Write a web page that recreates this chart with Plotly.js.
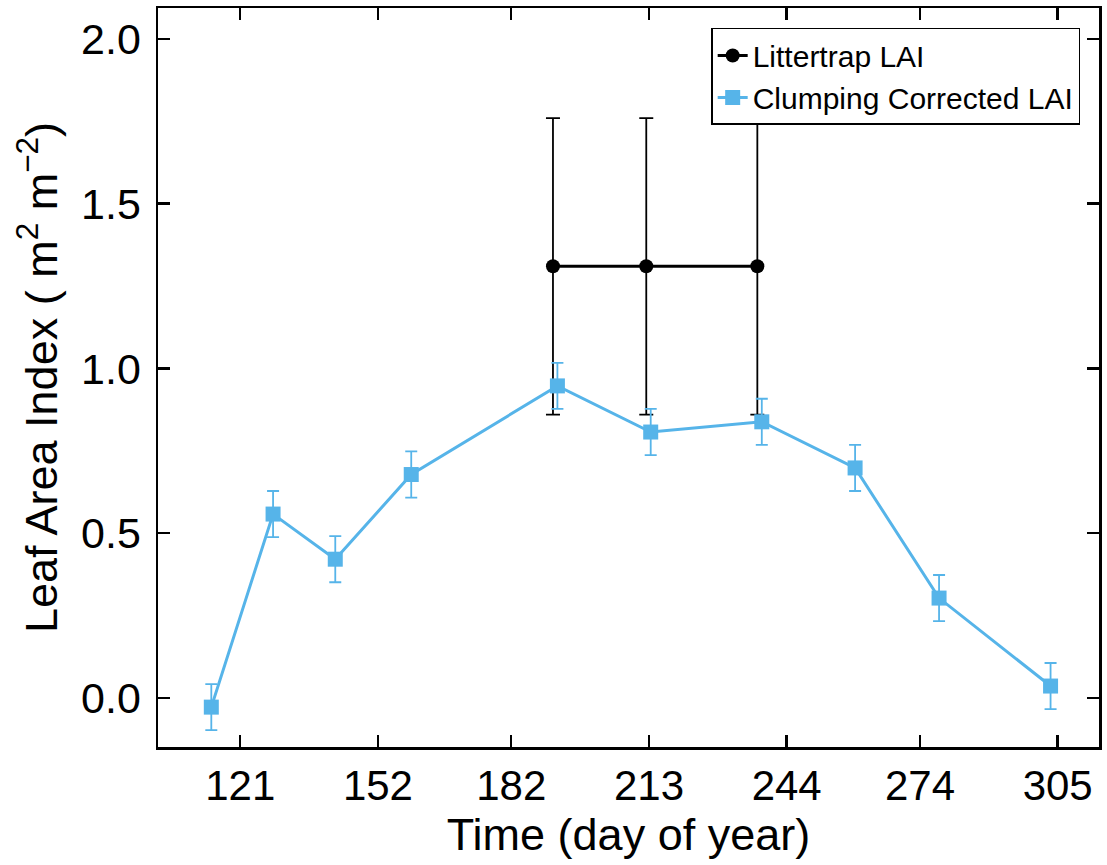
<!DOCTYPE html>
<html>
<head>
<meta charset="utf-8">
<script src="https://cdn.plot.ly/plotly-3.0.1.min.js"></script>
<style>html,body{margin:0;padding:0;background:#fff;}#chart{width:1107px;height:865px;}</style>
</head>
<body>
<div id="chart"></div>
<script>
const clumpDays = [114.5, 128.4, 142.4, 159.5, 192.4, 213.4, 238.4, 259.4, 278.3, 303.4];
const clumpLAI  = [-0.028, 0.558, 0.421, 0.678, 0.947, 0.807, 0.838, 0.698, 0.303, 0.036];
const clumpErr  = [0.07, 0.07, 0.07, 0.07, 0.07, 0.07, 0.07, 0.07, 0.07, 0.07];
const litterDays = [191.4, 212.4, 237.4];
const litterLAI  = [1.31, 1.31, 1.31];
const litterErr  = [0.45, 0.45, 0.45];
const xTickVals = [121, 152, 182, 213, 244, 274, 305];
const yTickVals = [0.0, 0.5, 1.0, 1.5, 2.0];
const yTickText = ['0.0', '0.5', '1.0', '1.5', '2.0'];

const blue = '#56B4E9';
const FONT = 'Liberation Sans, Arial, Helvetica, sans-serif';
const traces = [
  {
    x: litterDays, y: litterLAI, name: 'Littertrap LAI', type: 'scatter', mode: 'lines+markers',
    line: {color: '#000', width: 3},
    marker: {symbol: 'circle', size: 14, color: '#000'},
    error_y: {type: 'data', array: litterErr, visible: true, color: '#000', thickness: 1.8, width: 7}
  },
  {
    x: clumpDays, y: clumpLAI, name: 'Clumping Corrected LAI', type: 'scatter', mode: 'lines+markers',
    line: {color: blue, width: 3},
    marker: {symbol: 'square', size: 15, color: blue},
    error_y: {type: 'data', array: clumpErr, visible: true, color: blue, thickness: 1.8, width: 6}
  }
];

const axisCommon = {
  showgrid: false, zeroline: false, showline: true, linecolor: '#000', linewidth: 2.5,
  mirror: 'ticks', ticks: 'inside', ticklen: 12, tickwidth: 2.5, tickcolor: '#000'
};

const layout = {
  width: 1107, height: 865,
  margin: {l: 158, r: 8, t: 8, b: 118},
  paper_bgcolor: '#fff', plot_bgcolor: '#fff',
  showlegend: true,
  legend: {
    x: 0.98, y: 0.973, xanchor: 'right', yanchor: 'top',
    bordercolor: '#000', borderwidth: 1.5, bgcolor: '#fff',
    font: {family: FONT, size: 30, color: '#000'},
    tracegroupgap: 0
  },
  xaxis: Object.assign({}, axisCommon, {
    range: [102.5, 314.3], tickvals: xTickVals,
    tickfont: {family: FONT, size: 42, color: '#000'},
    title: {text: 'Time (day of year)', font: {family: FONT, size: 45, color: '#000'}, standoff: 2}
  }),
  yaxis: Object.assign({}, axisCommon, {
    range: [-0.149, 2.094], tickvals: yTickVals, ticktext: yTickText,
    tickfont: {family: FONT, size: 43, color: '#000'},
    ticklabelstandoff: 6,
    title: {text: 'Leaf Area Index ( m<sup>2</sup> m<sup>\u22122</sup>)', font: {family: FONT, size: 45, color: '#000'}, standoff: 10}
  })
};

Plotly.newPlot('chart', traces, layout, {displayModeBar: false, staticPlot: true});
</script>
</body>
</html>
